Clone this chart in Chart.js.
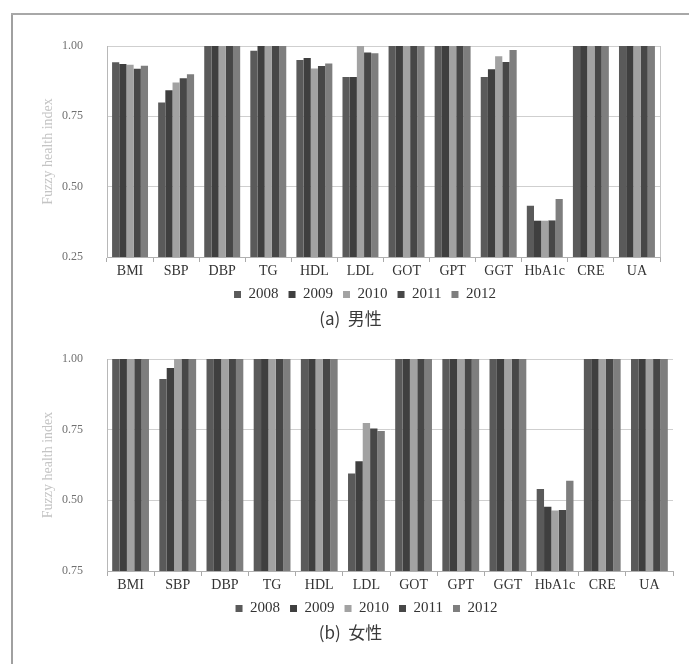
<!DOCTYPE html>
<html><head><meta charset="utf-8">
<script src="https://cdn.jsdelivr.net/npm/chart.js@4/dist/chart.umd.min.js"></script>
<style>
body{margin:0;background:#fff;width:689px;height:664px;overflow:hidden;position:relative}
#frameL{position:absolute;left:11px;top:13px;width:2px;height:651px;background:#a0a0a0}
#frameT{position:absolute;left:11px;top:13px;width:678px;height:2px;background:#a8a8a8}
.cap{position:absolute;left:6px;width:689px;text-align:center;font-family:"Noto Sans CJK JP";font-size:17px;line-height:24px;color:#3a3a3a;z-index:2}
canvas{position:absolute;left:0}
</style></head><body>
<div id="frameL"></div><div id="frameT"></div>
<canvas id="c1" width="689" height="282" style="top:30px"></canvas>
<div class="cap" style="top:306px">(a)&nbsp;&nbsp;男性</div>
<canvas id="c2" width="689" height="290" style="top:340px"></canvas>
<div class="cap" style="top:620px">(b)&nbsp;&nbsp;女性</div>
<script>
const categories = ["BMI","SBP","DBP","TG","HDL","LDL","GOT","GPT","GGT","HbA1c","CRE","UA"];
const years = ["2008","2009","2010","2011","2012"];
const yTitle = "Fuzzy health index";
const maleTicks = ["1.00","0.75","0.50","0.25"];
const femaleTicks = ["1.00","0.75","0.50","0.75"];

const male2008 = [0.942,0.799,1,0.983,0.950,0.890,1,1,0.890,0.432,1,1];
const male2009 = [0.936,0.843,1,1,0.957,0.890,1,1,0.917,0.379,1,1];
const male2010 = [0.933,0.870,1,1,0.920,1.000,1,1,0.964,0.379,1,1];
const male2011 = [0.919,0.885,1,1,0.929,0.977,1,1,0.943,0.380,1,1];
const male2012 = [0.930,0.900,1,1,0.938,0.974,1,1,0.986,0.456,1,1];

const female2008 = [1,0.929,1,1,1,0.595,1,1,1,0.540,1,1];
const female2009 = [1,0.968,1,1,1,0.638,1,1,1,0.477,1,1];
const female2010 = [1,1,1,1,1,0.774,1,1,1,0.464,1,1];
const female2011 = [1,1,1,1,1,0.754,1,1,1,0.466,1,1];
const female2012 = [1,1,1,1,1,0.745,1,1,1,0.569,1,1];

const colors = ["#5a5a5a","#3f3f3f","#a2a2a2","#474747","#7e7e7e"];

const rightBorder = {
  id:'rightBorder',
  afterLayout(chart, args, opts){
    if(chart.legend && opts.legendShift){ chart.legend.left += opts.legendShift; chart.legend.right += opts.legendShift; }
  },
  afterDraw(chart, args, opts){
    if(!opts.show) return;
    const a = chart.chartArea, ctx = chart.ctx;
    ctx.save(); ctx.strokeStyle = '#c4c4c4'; ctx.lineWidth = 1;
    ctx.beginPath(); ctx.moveTo(Math.round(a.right)+0.5, a.top); ctx.lineTo(Math.round(a.right)+0.5, a.bottom); ctx.stroke();
    ctx.restore();
  }
};

function make(id, series, tickLabels, pad, showRight, xh, shift){
  new Chart(document.getElementById(id), {
    type:'bar',
    data:{
      labels:categories,
      datasets: series.map((d,i)=>({label:years[i], data:d, backgroundColor:colors[i], borderWidth:0, categoryPercentage:0.78, barPercentage:1.0}))
    },
    plugins:[rightBorder],
    options:{
      responsive:false, animation:false,
      layout:{padding:pad},
      plugins:{
        rightBorder:{show:showRight, legendShift:shift},
        tooltip:{enabled:false},
        legend:{position:'bottom', labels:{boxWidth:7, boxHeight:7, padding:10, color:'#333', font:{family:'Liberation Serif', size:15}}}
      },
      scales:{
        x:{
          offset:true,
          grid:{display:true, drawOnChartArea:false, offset:true, tickLength:5, color:'#aaa'},
          border:{color:'#b0b0b0'},
          ticks:{color:'#333', padding:1, maxRotation:0, minRotation:0, autoSkip:false, font:{family:'Liberation Serif', size:14}},
          afterFit(s){ s.height = xh; }
        },
        y:{
          min:0.25, max:1.0,
          ticks:{stepSize:0.25, padding:24, color:'#707070', font:{family:'Liberation Serif', size:12},
            callback:(v)=>tickLabels[Math.round((1-v)/0.25)]},
          grid:{color:'#cfcfcf', drawTicks:false},
          border:{color:'#b8b8b8'},
          title:{display:true, text:yTitle, color:'#c4c4c4', padding:0, font:{family:'Liberation Serif', size:14}},
          afterFit(s){ s.width = 67; s.paddingTop = 7; s.paddingBottom = 7; }
        }
      }
    }
  });
}

make('c1', [male2008,male2009,male2010,male2011,male2012], maleTicks, {top:16,left:40,right:29,bottom:0}, true, 20, 15);
make('c2', [female2008,female2009,female2010,female2011,female2012], femaleTicks, {top:19,left:40,right:16,bottom:4}, false, 20, 10);
</script>
</body></html>
